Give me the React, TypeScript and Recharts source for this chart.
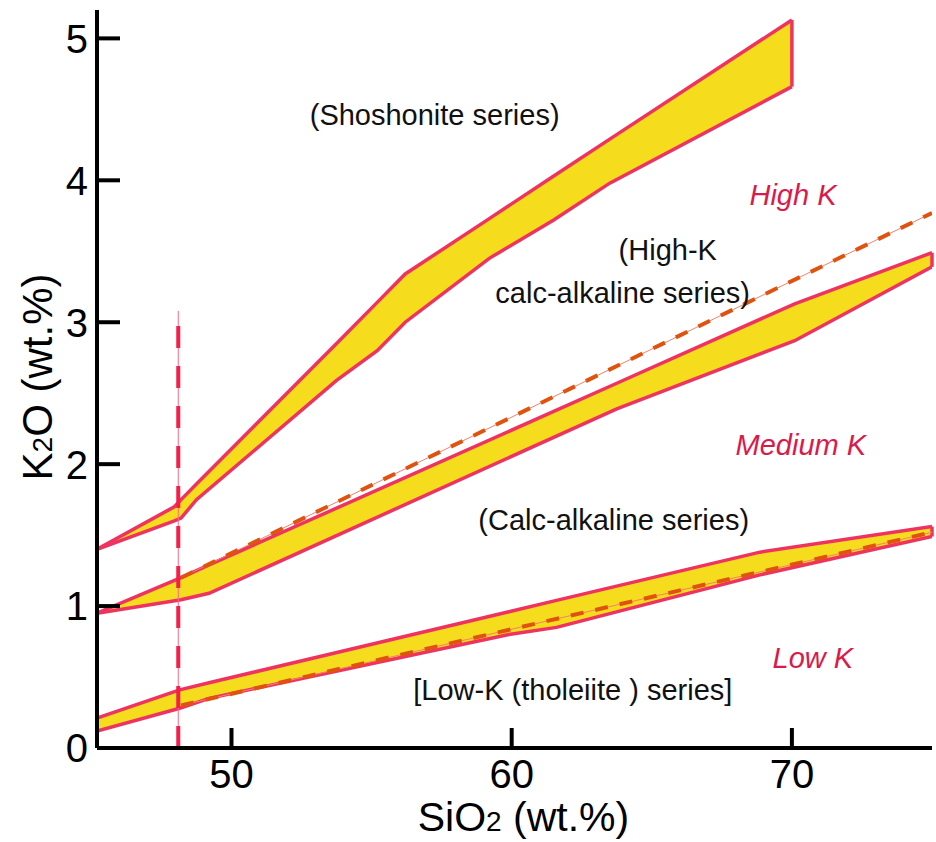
/**
 * K2O vs SiO2 classification diagram for volcanic series (Peccerillo & Taylor style)
 */

import React from "react";
import {
  ComposedChart,
  Area,
  Line,
  XAxis,
  YAxis,
  ReferenceLine,
  ReferenceDot,
} from "recharts";

const FONT = '"Liberation Sans", Arial, Helvetica, sans-serif';
const BAND_FILL = "#F5DD1E";
const BAND_STROKE = "#EF3360";
const DASH_ORANGE = "#E0530F";
const LABEL_RED = "#DA1A4B";

// axis ticks
const xTicks = [50, 60, 70];
const yTicks = [0, 1, 2, 3, 4, 5];

// shoshonite / high-K boundary band
const shoX = [45.2, 47.96, 48.2, 48.75, 53.75, 55.2, 56.2, 59.2, 61.5, 63.5, 70];
const shoLo = [1.4, 1.6, 1.62, 1.75, 2.59, 2.8, 3.0, 3.45, 3.72, 3.98, 4.66];
const shoHi = [1.4, 1.7, 1.75, 1.86, 2.85, 3.14, 3.34, 3.73, 4.03, 4.29, 5.13];

// high-K / medium-K boundary band
const hkX = [45.2, 48.2, 49.2, 63.75, 70.1, 75];
const hkLo = [0.95, 1.045, 1.09, 2.39, 2.87, 3.39];
const hkHi = [0.95, 1.2, 1.29, 2.57, 3.13, 3.49];

// medium-K / low-K boundary band
const lkX = [45.2, 48.15, 49.2, 59.9, 61.6, 68.86, 75];
const lkLo = [0.12, 0.28, 0.35, 0.8, 0.85, 1.22, 1.49];
const lkHi = [0.21, 0.41, 0.46, 0.96, 1.04, 1.38, 1.56];

// dashed dividing lines
const highKLineX = [48.2, 75];
const highKLineY = [1.2, 3.77];
const lowKLineX = [48.2, 75];
const lowKLineY = [0.3, 1.52];
const basaltX = [48.1, 48.1];
const basaltY = [0, 3.08];

// text annotations (data coords of the baseline centre)
const notes = [
  { text: "(Shoshonite series)", x: 57.25, y: 4.387, italic: false },
  { text: "High K", x: 70.04, y: 3.824, italic: true },
  { text: "(High-K", x: 65.57, y: 3.437, italic: false },
  { text: "calc-alkaline series)", x: 63.96, y: 3.134, italic: false },
  { text: "Medium K", x: 70.32, y: 2.063, italic: true },
  { text: "(Calc-alkaline series)", x: 63.64, y: 1.535, italic: false },
  { text: "Low K", x: 70.75, y: 0.563, italic: true },
  { text: "[Low-K (tholeiite ) series]", x: 62.18, y: 0.338, italic: false },
];

const toRows = (xs: number[], lo: number[], hi: number[]) =>
  xs.map((x, i) => ({ x, lo: lo[i], hi: hi[i] }));
const toPts = (xs: number[], ys: number[]) => xs.map((x, i) => ({ x, y: ys[i] }));

const shoBand = toRows(shoX, shoLo, shoHi);
const hkBand = toRows(hkX, hkLo, hkHi);
const lkBand = toRows(lkX, lkLo, lkHi);

const YTick = ({ x, y, payload }: any) => (
  <g>
    <line x1={x} x2={x + 23} y1={y} y2={y} stroke="#000" strokeWidth={4} />
    <text
      x={x - 9}
      y={y}
      dy="0.36em"
      textAnchor="end"
      fontSize={40}
      fontFamily={FONT}
      fill="#000"
    >
      {payload.value}
    </text>
  </g>
);

const XTick = ({ x, y, payload }: any) => (
  <g>
    <line x1={x} x2={x} y1={y} y2={y - 20} stroke="#000" strokeWidth={4} />
    <text x={x} y={y + 40} textAnchor="middle" fontSize={40} fontFamily={FONT} fill="#000">
      {payload.value}
    </text>
  </g>
);

const XTitle = ({ viewBox }: any) => (
  <text
    x={viewBox.x + viewBox.width / 2 + 9}
    y={viewBox.y + 83}
    textAnchor="middle"
    fontSize={41}
    fontFamily={FONT}
    fill="#000"
  >
    SiO<tspan fontSize={28}>2</tspan> (wt.%)
  </text>
);

const YTitle = () => (
  <text
    x={52}
    y={377}
    transform="rotate(-90, 52, 377)"
    textAnchor="middle"
    fontSize={42}
    fontFamily={FONT}
    fill="#000"
  >
    K<tspan fontSize={28}>2</tspan>O (wt.%)
  </text>
);

const noteLabel = (text: string, italic: boolean) => (props: any) => (
  <text
    x={props.viewBox.x}
    y={props.viewBox.y}
    textAnchor="middle"
    fontSize={29}
    fontFamily={FONT}
    fontStyle={italic ? "italic" : "normal"}
    fill={italic ? LABEL_RED : "#111"}
  >
    {text}
  </text>
);

const bandProps = {
  type: "linear" as const,
  dataKey: (d: any) => [d.lo, d.hi],
  stroke: BAND_STROKE,
  strokeWidth: 3.5,
  fill: BAND_FILL,
  fillOpacity: 1,
  dot: false,
  activeDot: false,
  isAnimationActive: false,
};

export default function App() {
  return (
    <div style={{ position: "absolute", left: 0, top: 0, background: "#fff" }}>
      <ComposedChart width={936} height={842} margin={{ top: 10, right: 4, bottom: 0, left: 0 }}>
        <XAxis
          type="number"
          dataKey="x"
          domain={[45.2, 75]}
          allowDataOverflow
          ticks={xTicks}
          interval={0}
          height={94}
          tickSize={0}
          tickMargin={0}
          tickLine={false}
          axisLine={{ stroke: "#000", strokeWidth: 4 }}
          tick={<XTick />}
          label={{ content: XTitle }}
        />
        <YAxis
          type="number"
          domain={[0, 5.2]}
          allowDataOverflow
          ticks={yTicks}
          interval={0}
          width={97}
          tickSize={0}
          tickMargin={0}
          tickLine={false}
          axisLine={{ stroke: "#000", strokeWidth: 4 }}
          tick={<YTick />}
          label={{ content: YTitle }}
        />

        <Area {...bandProps} data={shoBand} />
        <Area {...bandProps} data={hkBand} />
        <Area {...bandProps} data={lkBand} />

        <ReferenceLine
          segment={[{ x: 70, y: shoLo[shoLo.length - 1] }, { x: 70, y: shoHi[shoHi.length - 1] }]}
          stroke={BAND_STROKE}
          strokeWidth={3.5}
        />
        <ReferenceLine
          segment={[{ x: 75, y: hkLo[hkLo.length - 1] }, { x: 75, y: hkHi[hkHi.length - 1] }]}
          stroke={BAND_STROKE}
          strokeWidth={3.5}
        />
        <ReferenceLine
          segment={[{ x: 75, y: lkLo[lkLo.length - 1] }, { x: 75, y: lkHi[lkHi.length - 1] }]}
          stroke={BAND_STROKE}
          strokeWidth={3.5}
        />
        <ReferenceLine
          segment={[{ x: 45.2, y: lkLo[0] }, { x: 45.2, y: lkHi[0] }]}
          stroke={BAND_STROKE}
          strokeWidth={3.5}
        />

        {/* high-K / medium-K divider */}
        <Line
          data={toPts(highKLineX, highKLineY)}
          dataKey="y"
          type="linear"
          stroke="#F2826A"
          strokeWidth={1}
          dot={false}
          activeDot={false}
          isAnimationActive={false}
        />
        <Line
          data={toPts(highKLineX, highKLineY)}
          dataKey="y"
          type="linear"
          stroke={DASH_ORANGE}
          strokeWidth={4}
          strokeDasharray="13 12"
          dot={false}
          activeDot={false}
          isAnimationActive={false}
        />

        {/* medium-K / low-K divider */}
        <Line
          data={toPts(lowKLineX, lowKLineY)}
          dataKey="y"
          type="linear"
          stroke="#F2826A"
          strokeWidth={1}
          dot={false}
          activeDot={false}
          isAnimationActive={false}
        />
        <Line
          data={toPts(lowKLineX, lowKLineY)}
          dataKey="y"
          type="linear"
          stroke={DASH_ORANGE}
          strokeWidth={4}
          strokeDasharray="13 12"
          dot={false}
          activeDot={false}
          isAnimationActive={false}
        />

        {/* basalt limit at 48 wt.% SiO2 */}
        <Line
          data={toPts(basaltX, basaltY)}
          dataKey="y"
          type="linear"
          stroke="#F66A88"
          strokeWidth={1}
          dot={false}
          activeDot={false}
          isAnimationActive={false}
        />
        <Line
          data={toPts(basaltX, basaltY)}
          dataKey="y"
          type="linear"
          stroke="#F41E4B"
          strokeWidth={4}
          strokeDasharray="22 18"
          dot={false}
          activeDot={false}
          isAnimationActive={false}
        />

        {notes.map((n) => (
          <ReferenceDot
            key={n.text}
            x={n.x}
            y={n.y}
            r={0}
            fill="none"
            stroke="none"
            label={noteLabel(n.text, n.italic)}
          />
        ))}
      </ComposedChart>
    </div>
  );
}
